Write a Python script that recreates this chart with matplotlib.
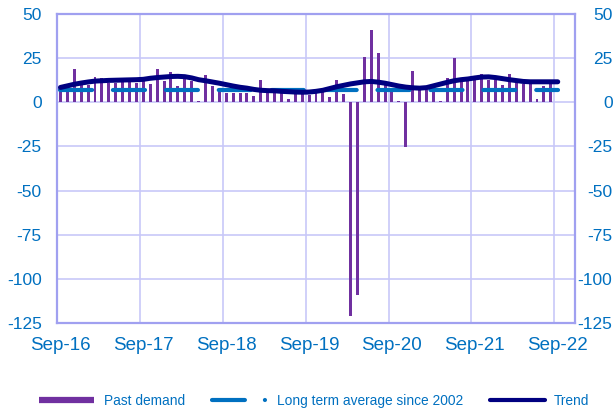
import numpy as np
import matplotlib
matplotlib.use("Agg")
import matplotlib.pyplot as plt
from matplotlib.lines import Line2D

plt.rcParams["font.family"] = ["Liberation Sans", "DejaVu Sans"]

# monthly data, Sep-16 .. Sep-22
past_demand = [9, 9, 19, 10, 10, 14.5, 14, 11, 11, 12, 12, 11,
               13, 10.5, 19, 12, 17, 9, 13.5, 12, 1, 15.5, 9, 7.5,
               5, 5, 5, 5, 3.5, 12.5, 5, 5, 5, 2, 4.5, 4.5,
               4, 5, 6, 3, 12.7, 4.5, -121, -109, 25.8, 41, 27.8, 10.5,
               8, 1, -25.3, 18, 6.8, 7.2, 6, 1, 13.5, 25, 13.5, 14,
               14, 16.2, 12.5, 12.5, 9.7, 16.2, 11.6, 10.6, 10.6, 1.7, 9.1, 10.6, np.nan]

trend = [8.4, 9.3, 10.2, 10.9, 11.5, 12.0, 12.2, 12.4, 12.5, 12.6, 12.7, 12.8,
         13.0, 13.6, 14.0, 14.3, 14.6, 14.7, 14.5, 13.8, 12.8, 12.2, 11.5, 10.8,
         10.0, 9.2, 8.5, 8.0, 7.3, 6.8, 6.6, 6.5, 6.2, 6.0, 5.8, 5.7,
         5.8, 6.2, 6.8, 7.8, 8.8, 9.6, 10.4, 11.0, 11.6, 11.8, 11.4, 10.8,
         10.0, 9.2, 8.6, 8.2, 8.0, 8.3, 9.3, 10.3, 11.3, 12.2, 12.8, 13.2,
         13.8, 14.3, 14.4, 14.0, 13.4, 12.8, 12.3, 11.8, 11.6, 11.6, 11.6, 11.6, 11.6]

long_term_avg = 7.2

year_labels = ["Sep-16", "Sep-17", "Sep-18", "Sep-19", "Sep-20", "Sep-21", "Sep-22"]
y_ticks = [50, 25, 0, -25, -50, -75, -100, -125]

purple = "#7030A0"
blue = "#0070C0"
navy = "#000080"
txt = "#0070C0"
grid_c = "#C8C8F8"
spine_c = "#A0A0F0"

n = len(past_demand)
x = np.arange(n) + 0.5

fig = plt.figure(figsize=(6.13, 4.12), dpi=100)
ax = fig.add_axes([57 / 613, 89 / 412, 518 / 613, 309 / 412])

ax.bar(x, past_demand, width=0.43, color=purple, zorder=2)
ax.plot(x, [long_term_avg] * n, color=blue, lw=3, linestyle=(0, (7.7, 5.0)),
        dash_capstyle="round", solid_capstyle="round", zorder=3)
ax.plot(x, trend, color=navy, lw=3.6, solid_capstyle="round",
        solid_joinstyle="round", zorder=4)

ax.set_xlim(0, 75)
ax.set_ylim(-125, 50)

bounds = np.arange(0, 73, 12)
ax.set_xticks(bounds)
ax.set_xticklabels([])
ax.set_xticks(bounds + 0.5, minor=True)
ax.set_xticklabels(year_labels, minor=True, fontsize=13.5, color=txt)
ax.tick_params(axis="x", which="both", length=0, pad=10)

ax.set_yticks(y_ticks)
ax.set_yticklabels([str(v) for v in y_ticks], fontsize=12.5, color=txt)
ax.tick_params(axis="y", length=0, pad=11)

ax.grid(True, which="major", color=grid_c, lw=1.2, zorder=0)
ax.set_axisbelow(True)
for s in ax.spines.values():
    s.set_color(spine_c)
    s.set_linewidth(1.6)

ax2 = ax.twinx()
ax2.set_ylim(-125, 50)
ax2.set_yticks(y_ticks)
ax2.set_yticklabels([str(v) for v in y_ticks], fontsize=12.5, color=txt, ha="right")
ax2.tick_params(axis="y", length=0, pad=27)
for s in ax2.spines.values():
    s.set_visible(False)

handles = [
    Line2D([], [], color=purple, lw=4.5, solid_capstyle="butt"),
    Line2D([], [], color=blue, lw=3, linestyle=(0, (7.9, 4.8, 0.01, 20)),
           dash_capstyle="round"),
    Line2D([], [], color=navy, lw=3, solid_capstyle="round"),
]
leg = fig.legend(handles, ["Past demand", "Long term average since 2002", "Trend"],
                 loc="center", bbox_to_anchor=(0.513, 11 / 412), ncol=3, frameon=False,
                 fontsize=9.9, handlelength=4.0, handletextpad=0.7, columnspacing=1.95)
for t in leg.get_texts():
    t.set_color(txt)

fig.savefig("out.png", dpi=100)
